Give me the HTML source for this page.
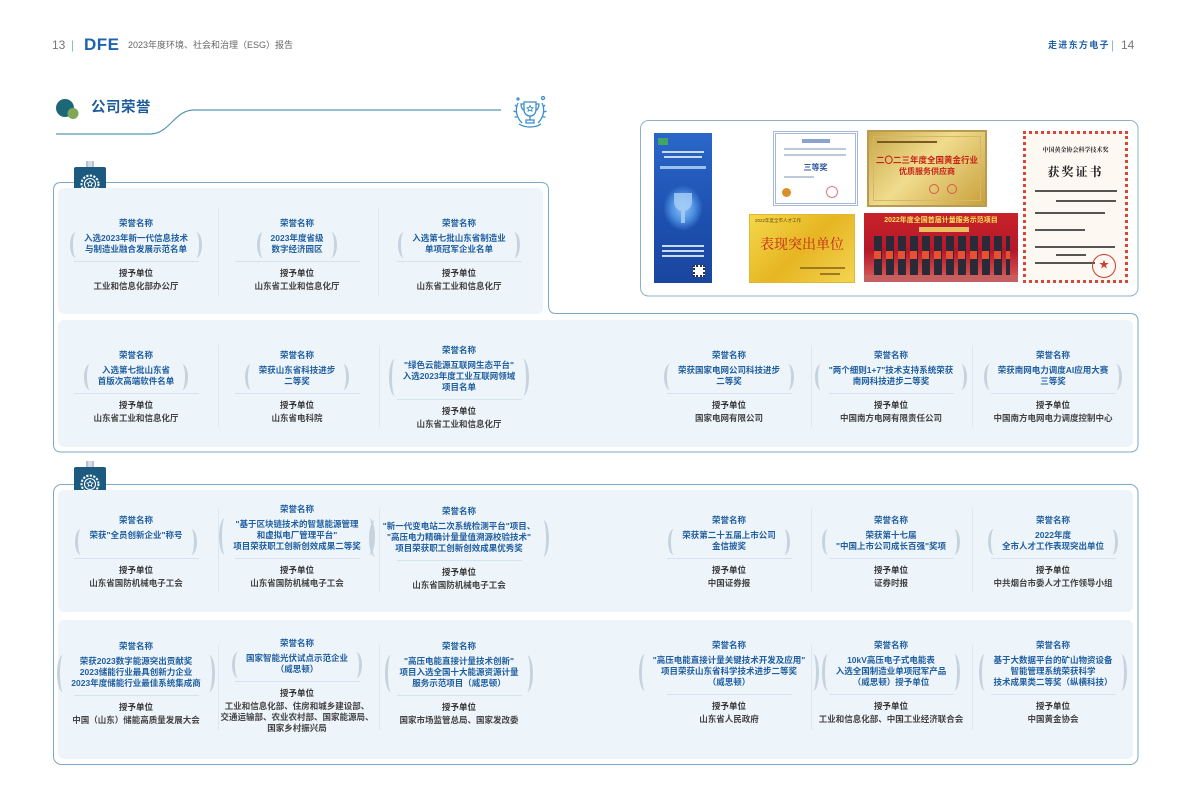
<!DOCTYPE html>
<html><head><meta charset="utf-8">
<style>
*{box-sizing:border-box}
body{margin:0;width:1192px;height:809px;background:#fff;position:relative;overflow:hidden;font-family:"Liberation Sans","Noto Sans CJK SC",sans-serif;}
.abs{position:absolute}
.panel{position:absolute;background:#edf4fa;border-radius:6px}
.dv{position:absolute;width:1px;background:#dde8f1}
.col{position:absolute;width:220px;margin-left:-110px;text-align:center;font-size:8.5px;font-weight:bold}
.lab{color:#1f5e9f;line-height:12px;height:12px}
.tw{display:flex;justify-content:center;margin-top:4px}
.tb{position:relative;padding:0 14px;color:#1f5e9f;line-height:11px;min-height:22px;white-space:nowrap}
.tb::before,.tb::after{content:"";position:absolute;top:-1px;bottom:-3px;width:9px}
.tb::before{left:0;border-left:3px solid #c6d3de;border-radius:50%}
.tb::after{right:0;border-right:3px solid #c6d3de;border-radius:50%}
.sep{width:125px;height:1px;background:#d6e3ee;margin:6px auto 0}
.gv{color:#333;line-height:11px;margin-top:6px}
.org{color:#444;line-height:11px;margin-top:2px;white-space:nowrap}
.badge{position:absolute;width:32px;height:33px;background:#1c5a80;border-radius:2px 2px 10px 2px}
.rib{position:absolute;width:8px;height:7px;background:#d5dce3;border-left:2px solid #b9c3cc;border-right:2px solid #b9c3cc}
</style></head><body>

<!-- header -->
<div class="abs" style="left:52px;top:37px;font-size:12px;color:#777;line-height:16px">13</div>
<div class="abs" style="left:71px;top:37px;font-size:12px;color:#8fb0cc;line-height:16px">|</div>
<div class="abs" style="left:84px;top:35px;font-size:17px;font-weight:900;color:#1f63b0;letter-spacing:0.5px;line-height:20px">DFE</div>
<div class="abs" style="left:128px;top:39px;font-size:9px;color:#666;line-height:12px;white-space:nowrap">2023年度环境、社会和治理（ESG）报告</div>
<div class="abs" style="left:1048px;top:39px;font-size:9px;font-weight:bold;color:#1f5ea8;letter-spacing:1.3px;line-height:12px;white-space:nowrap">走进东方电子</div>
<div class="abs" style="left:1111px;top:37px;font-size:12px;color:#8fb0cc;line-height:16px">|</div>
<div class="abs" style="left:1121px;top:37px;font-size:12px;color:#777;line-height:16px">14</div>

<!-- title -->
<svg class="abs" style="left:0;top:0" width="1192" height="809">
  <circle cx="65" cy="108" r="9" fill="#1d6878"/>
  <circle cx="73" cy="113.5" r="5.5" fill="#7ea856"/>
  <path d="M56,134 L150,134 C170,134 174,110 194,110 L501,110" fill="none" stroke="#5a93b6" stroke-width="1.2"/>
  <!-- trophy -->
  <g transform="translate(513,95)" fill="none" stroke="#3b8ec8" stroke-width="1.3">
    <path d="M11,7 H23 V14 C23,19 20,21 17,21 C14,21 11,19 11,14 Z"/>
    <path d="M11,9 H8 C8,13 10,15 11,15"/>
    <path d="M23,9 H26 C26,13 24,15 23,15"/>
    <path d="M17,21 V25 M13,25 H21 V28 H13 Z"/>
    <path d="M17,10.5 l1,2 2,0.3 -1.5,1.4 0.4,2 -1.9,-1 -1.9,1 0.4,-2 -1.5,-1.4 2,-0.3z" stroke-width="0.9"/>
    <path d="M5,8 C2,14 3,22 9,28 M29,8 C32,14 31,22 25,28"/>
    <path d="M4,12 l-2,-2 M3,17 l-2.5,-1 M4,22 l-2.5,0 M30,12 l2,-2 M31,17 l2.5,-1 M30,22 l2.5,0"/>
    <path d="M6,29 C12,33 22,33 28,29"/>
    <circle cx="30" cy="3" r="1.5"/><circle cx="5" cy="4" r="1"/>
  </g>
  <!-- block 1 outer border -->
  <path d="M61,182.5 H541 Q548.5,182.5 548.5,190 V305 Q548.5,313.5 556,313.5 H1130 Q1138,313.5 1138,321 V444 Q1138,452 1130,452 H61 Q53.5,452 53.5,444 V190 Q53.5,182.5 61,182.5 Z" fill="none" stroke="#7ea9c4" stroke-width="1"/>
  <!-- block 2 outer border -->
  <rect x="53.5" y="484.5" width="1084.5" height="280" rx="8" fill="none" stroke="#7ea9c4" stroke-width="1"/>
  <!-- photo box -->
  <rect x="640.5" y="120.5" width="497.5" height="175.5" rx="8" fill="none" stroke="#8db2c9" stroke-width="1"/>
</svg>

<!-- photos -->
<div class="abs" style="left:654px;top:133px;width:58px;height:150px;background:linear-gradient(180deg,#2b67c9 0%,#1c4fae 60%,#1a46a0 100%);overflow:hidden">
  <div class="abs" style="left:4px;top:5px;width:10px;height:7px;background:#43a565"></div>
  <div class="abs" style="left:8px;top:18px;width:42px;height:2px;background:#c9daf5"></div>
  <div class="abs" style="left:10px;top:23px;width:38px;height:2px;background:#c9daf5"></div>
  <div class="abs" style="left:6px;top:33px;width:46px;height:3px;background:#9cc0f0"></div>
  <div class="abs" style="left:9px;top:52px;width:40px;height:46px;background:radial-gradient(ellipse at center,#8fc2f5 0%,#4d8fe0 40%,rgba(40,100,200,0) 70%)"></div>
  <div class="abs" style="left:20px;top:60px;width:18px;height:18px;border-radius:0 0 9px 9px;background:#a8d0f7;opacity:.8"></div>
  <div class="abs" style="left:27px;top:78px;width:4px;height:12px;background:#a8d0f7;opacity:.8"></div>
  <div class="abs" style="left:8px;top:112px;width:42px;height:2px;background:#c9daf5"></div>
  <div class="abs" style="left:8px;top:117px;width:42px;height:2px;background:#c9daf5"></div>
  <div class="abs" style="left:8px;top:122px;width:42px;height:2px;background:#c9daf5"></div>
  <div class="abs" style="left:39px;top:132px;width:12px;height:12px;background:#fff;border:2px dotted #333"></div>
</div>
<div class="abs" style="left:773px;top:131px;width:85px;height:75px;background:#fff;border:3px double #a5b8dc">
  <div class="abs" style="left:26px;top:5px;width:28px;height:4px;background:#8aa3cf"></div>
  <div class="abs" style="left:8px;top:14px;width:62px;height:2px;background:#bfc9db"></div>
  <div class="abs" style="left:8px;top:20px;width:62px;height:2px;background:#bfc9db"></div>
  <div class="abs" style="left:0;top:29px;width:79px;text-align:center;font-size:8px;font-weight:bold;color:#2a52a0;line-height:10px">三等奖</div>
  <div class="abs" style="left:8px;top:42px;width:30px;height:2px;background:#bfc9db"></div>
  <div class="abs" style="left:6px;top:54px;width:9px;height:9px;border-radius:50%;background:#d9902a"></div>
  <div class="abs" style="left:50px;top:52px;width:12px;height:12px;border-radius:50%;border:1px solid #e07a7a"></div>
</div>
<div class="abs" style="left:867px;top:130px;width:120px;height:77px;background:linear-gradient(135deg,#c9a74a,#f0dc8e 45%,#c9a03c 100%);border:2px solid #b89a50">
  <div class="abs" style="left:4px;top:4px;width:108px;height:65px;border:1px solid #d4b86a"></div>
  <div class="abs" style="left:8px;top:9px;width:60px;height:2px;background:#7a5a20"></div>
  <div class="abs" style="left:0;top:22px;width:116px;text-align:center;font-size:8.5px;font-weight:bold;color:#c42418;line-height:12px;white-space:nowrap">二〇二三年度全国黄金行业</div>
  <div class="abs" style="left:0;top:34px;width:116px;text-align:center;font-size:8px;font-weight:bold;color:#c42418;line-height:12px">优质服务供应商</div>
  <div class="abs" style="left:60px;top:52px;width:10px;height:10px;border-radius:50%;border:1px solid #d45a4a"></div>
  <div class="abs" style="left:78px;top:52px;width:10px;height:10px;border-radius:50%;border:1px solid #d45a4a"></div>
</div>
<div class="abs" style="left:749px;top:214px;width:106px;height:69px;background:linear-gradient(135deg,#f4d84c,#e6b522 50%,#f3d452);border:1px solid #e0b830">
  <div class="abs" style="left:5px;top:3px;font-size:4.5px;color:#6a4a10;line-height:6px;white-space:nowrap">2022年度全市人才工作</div>
  <div class="abs" style="left:0;top:20px;width:104px;text-align:center;font-size:14px;color:#c4231a;line-height:18px;font-family:'Noto Serif CJK SC','Liberation Serif',serif;white-space:nowrap">表现突出单位</div>
  <div class="abs" style="left:50px;top:52px;width:45px;height:2px;background:#a07820"></div>
  <div class="abs" style="left:70px;top:58px;width:20px;height:2px;background:#a07820"></div>
</div>
<div class="abs" style="left:864px;top:213px;width:154px;height:69px;background:linear-gradient(180deg,#c8222a 0%,#b5182a 55%,#d8605a 100%);overflow:hidden">
  <div class="abs" style="left:4px;top:3px;width:146px;height:9px;font-size:7px;color:#f8e05a;font-weight:bold;line-height:9px;text-align:center;white-space:nowrap">2022年度全国首届计量服务示范项目</div>
  <div class="abs" style="left:55px;top:14px;width:50px;height:5px;background:#e8c060"></div>
  <div class="abs" style="left:10px;top:23px;width:136px;height:44px;background:repeating-linear-gradient(90deg,#2a2a38 0 8px,transparent 8px 12px)"></div>
  <div class="abs" style="left:10px;top:38px;width:136px;height:8px;background:repeating-linear-gradient(90deg,#e85030 0 7px,transparent 7px 12px)"></div>
  <div class="abs" style="left:0;top:62px;width:154px;height:7px;background:#c66060"></div>
</div>
<div class="abs" style="left:1023px;top:131px;width:105px;height:152px;background:#fdf8f2;border:3px dotted #d6473a">
  <div class="abs" style="left:0;top:12px;width:99px;text-align:center;font-size:6px;font-weight:bold;color:#222;line-height:8px;white-space:nowrap;font-family:'Noto Serif CJK SC',serif">中国黄金协会科学技术奖</div>
  <div class="abs" style="left:0;top:31px;width:99px;text-align:center;font-size:12px;font-weight:bold;color:#222;line-height:14px;letter-spacing:2px;font-family:'Noto Serif CJK SC',serif">获奖证书</div>
  <div class="abs" style="left:9px;top:56px;width:82px;height:2px;background:#555"></div>
  <div class="abs" style="left:30px;top:66px;width:60px;height:2px;background:#555"></div>
  <div class="abs" style="left:9px;top:78px;width:70px;height:2px;background:#555"></div>
  <div class="abs" style="left:9px;top:95px;width:50px;height:2px;background:#555"></div>
  <div class="abs" style="left:9px;top:112px;width:80px;height:2px;background:#555"></div>
  <div class="abs" style="left:30px;top:120px;width:30px;height:2px;background:#555"></div>
  <div class="abs" style="left:9px;top:128px;width:60px;height:2px;background:#555"></div>
  <div class="abs" style="left:66px;top:120px;width:24px;height:24px;border-radius:50%;border:1.5px solid #d43a30;color:#d43a30;font-size:10px;text-align:center;line-height:21px">★</div>
</div>

<!-- badges -->
<div class="rib" style="left:86px;top:161px"></div>
<div class="badge" style="left:74px;top:167px"></div>
<svg class="abs" style="left:74px;top:167px" width="32" height="33"><circle cx="16" cy="17" r="8.5" fill="none" stroke="#fff" stroke-width="2" stroke-dasharray="2.2 1.4"/><circle cx="16" cy="17" r="5.5" fill="none" stroke="#fff" stroke-width="1.1"/><path d="M16,13.8 l0.9,1.9 2,0.3 -1.5,1.4 0.4,2 -1.8,-1 -1.8,1 0.4,-2 -1.5,-1.4 2,-0.3z" fill="none" stroke="#fff" stroke-width="0.8"/></svg>
<div class="rib" style="left:86px;top:461px"></div>
<div class="badge" style="left:74px;top:467px"></div>
<svg class="abs" style="left:74px;top:467px" width="32" height="33"><circle cx="16" cy="17" r="8.5" fill="none" stroke="#fff" stroke-width="2" stroke-dasharray="2.2 1.4"/><circle cx="16" cy="17" r="5.5" fill="none" stroke="#fff" stroke-width="1.1"/><path d="M16,13.8 l0.9,1.9 2,0.3 -1.5,1.4 0.4,2 -1.8,-1 -1.8,1 0.4,-2 -1.5,-1.4 2,-0.3z" fill="none" stroke="#fff" stroke-width="0.8"/></svg>

<!-- panels -->
<div class="panel" style="left:58px;top:188px;width:485px;height:126px"></div>
<div class="panel" style="left:58px;top:320px;width:1075px;height:127px"></div>
<div class="panel" style="left:58px;top:490px;width:1075px;height:122px"></div>
<div class="panel" style="left:58px;top:620px;width:1075px;height:139px"></div>

<!-- dividers -->
<div class="dv" style="left:218px;top:208px;height:88px"></div>
<div class="dv" style="left:378px;top:208px;height:88px"></div>
<div class="dv" style="left:218px;top:345px;height:82px"></div>
<div class="dv" style="left:379px;top:345px;height:82px"></div>
<div class="dv" style="left:811px;top:345px;height:82px"></div>
<div class="dv" style="left:972px;top:345px;height:82px"></div>
<div class="dv" style="left:218px;top:508px;height:84px"></div>
<div class="dv" style="left:379px;top:508px;height:84px"></div>
<div class="dv" style="left:811px;top:508px;height:84px"></div>
<div class="dv" style="left:972px;top:508px;height:84px"></div>
<div class="dv" style="left:218px;top:645px;height:85px"></div>
<div class="dv" style="left:379px;top:645px;height:85px"></div>
<div class="dv" style="left:811px;top:645px;height:85px"></div>
<div class="dv" style="left:972px;top:645px;height:85px"></div>

<!-- Row 1 -->
<div class="col" style="left:136px;top:217px"><div class="lab">荣誉名称</div><div class="tw"><div class="tb">入选2023年新一代信息技术<br>与制造业融合发展示范名单</div></div><div class="sep"></div><div class="gv">授予单位</div><div class="org">工业和信息化部办公厅</div></div>
<div class="col" style="left:297px;top:217px"><div class="lab">荣誉名称</div><div class="tw"><div class="tb">2023年度省级<br>数字经济园区</div></div><div class="sep"></div><div class="gv">授予单位</div><div class="org">山东省工业和信息化厅</div></div>
<div class="col" style="left:459px;top:217px"><div class="lab">荣誉名称</div><div class="tw"><div class="tb">入选第七批山东省制造业<br>单项冠军企业名单</div></div><div class="sep"></div><div class="gv">授予单位</div><div class="org">山东省工业和信息化厅</div></div>

<!-- Row 2 -->
<div class="col" style="left:136px;top:349px"><div class="lab">荣誉名称</div><div class="tw"><div class="tb">入选第七批山东省<br>首版次高端软件名单</div></div><div class="sep"></div><div class="gv">授予单位</div><div class="org">山东省工业和信息化厅</div></div>
<div class="col" style="left:297px;top:349px"><div class="lab">荣誉名称</div><div class="tw"><div class="tb">荣获山东省科技进步<br>二等奖</div></div><div class="sep"></div><div class="gv">授予单位</div><div class="org">山东省电科院</div></div>
<div class="col" style="left:459px;top:344px"><div class="lab">荣誉名称</div><div class="tw"><div class="tb">"绿色云能源互联网生态平台"<br>入选2023年度工业互联网领域<br>项目名单</div></div><div class="sep"></div><div class="gv">授予单位</div><div class="org">山东省工业和信息化厅</div></div>
<div class="col" style="left:729px;top:349px"><div class="lab">荣誉名称</div><div class="tw"><div class="tb">荣获国家电网公司科技进步<br>二等奖</div></div><div class="sep"></div><div class="gv">授予单位</div><div class="org">国家电网有限公司</div></div>
<div class="col" style="left:891px;top:349px"><div class="lab">荣誉名称</div><div class="tw"><div class="tb">"两个细则1+7"技术支持系统荣获<br>南网科技进步二等奖</div></div><div class="sep"></div><div class="gv">授予单位</div><div class="org">中国南方电网有限责任公司</div></div>
<div class="col" style="left:1053px;top:349px"><div class="lab">荣誉名称</div><div class="tw"><div class="tb">荣获南网电力调度AI应用大赛<br>三等奖</div></div><div class="sep"></div><div class="gv">授予单位</div><div class="org">中国南方电网电力调度控制中心</div></div>

<!-- Row 3 -->
<div class="col" style="left:136px;top:514px"><div class="lab">荣誉名称</div><div class="tw"><div class="tb">荣获"全员创新企业"称号</div></div><div class="sep"></div><div class="gv">授予单位</div><div class="org">山东省国防机械电子工会</div></div>
<div class="col" style="left:297px;top:503px"><div class="lab">荣誉名称</div><div class="tw"><div class="tb">"基于区块链技术的智慧能源管理<br>和虚拟电厂管理平台"<br>项目荣获职工创新创效成果二等奖</div></div><div class="sep"></div><div class="gv">授予单位</div><div class="org">山东省国防机械电子工会</div></div>
<div class="col" style="left:459px;top:505px"><div class="lab">荣誉名称</div><div class="tw"><div class="tb">"新一代变电站二次系统检测平台"项目、<br>"高压电力精确计量量值溯源校验技术"<br>项目荣获职工创新创效成果优秀奖</div></div><div class="sep"></div><div class="gv">授予单位</div><div class="org">山东省国防机械电子工会</div></div>
<div class="col" style="left:729px;top:514px"><div class="lab">荣誉名称</div><div class="tw"><div class="tb">荣获第二十五届上市公司<br>金信披奖</div></div><div class="sep"></div><div class="gv">授予单位</div><div class="org">中国证券报</div></div>
<div class="col" style="left:891px;top:514px"><div class="lab">荣誉名称</div><div class="tw"><div class="tb">荣获第十七届<br>"中国上市公司成长百强"奖项</div></div><div class="sep"></div><div class="gv">授予单位</div><div class="org">证券时报</div></div>
<div class="col" style="left:1053px;top:514px"><div class="lab">荣誉名称</div><div class="tw"><div class="tb">2022年度<br>全市人才工作表现突出单位</div></div><div class="sep"></div><div class="gv">授予单位</div><div class="org">中共烟台市委人才工作领导小组</div></div>

<!-- Row 4 -->
<div class="col" style="left:136px;top:640px"><div class="lab">荣誉名称</div><div class="tw"><div class="tb">荣获2023数字能源突出贡献奖<br>2023储能行业最具创新力企业<br>2023年度储能行业最佳系统集成商</div></div><div class="sep"></div><div class="gv">授予单位</div><div class="org">中国（山东）储能高质量发展大会</div></div>
<div class="col" style="left:297px;top:637px"><div class="lab">荣誉名称</div><div class="tw"><div class="tb">国家智能光伏试点示范企业<br>（威思顿）</div></div><div class="sep"></div><div class="gv">授予单位</div><div class="org">工业和信息化部、住房和城乡建设部、<br>交通运输部、农业农村部、国家能源局、<br>国家乡村振兴局</div></div>
<div class="col" style="left:459px;top:640px"><div class="lab">荣誉名称</div><div class="tw"><div class="tb">"高压电能直接计量技术创新"<br>项目入选全国十大能源资源计量<br>服务示范项目（威思顿）</div></div><div class="sep"></div><div class="gv">授予单位</div><div class="org">国家市场监管总局、国家发改委</div></div>
<div class="col" style="left:729px;top:639px"><div class="lab">荣誉名称</div><div class="tw"><div class="tb">"高压电能直接计量关键技术开发及应用"<br>项目荣获山东省科学技术进步二等奖<br>（威思顿）</div></div><div class="sep"></div><div class="gv">授予单位</div><div class="org">山东省人民政府</div></div>
<div class="col" style="left:891px;top:639px"><div class="lab">荣誉名称</div><div class="tw"><div class="tb">10kV高压电子式电能表<br>入选全国制造业单项冠军产品<br>（威思顿）授予单位</div></div><div class="sep"></div><div class="gv">授予单位</div><div class="org">工业和信息化部、中国工业经济联合会</div></div>
<div class="col" style="left:1053px;top:639px"><div class="lab">荣誉名称</div><div class="tw"><div class="tb">基于大数据平台的矿山物资设备<br>智能管理系统荣获科学<br>技术成果类二等奖（纵横科技）</div></div><div class="sep"></div><div class="gv">授予单位</div><div class="org">中国黄金协会</div></div>

<!-- section title -->
<div class="abs" style="left:91px;top:98px;font-size:14.5px;font-weight:bold;color:#1e5c9c;line-height:20px;letter-spacing:0.5px">公司荣誉</div>

</body></html>
